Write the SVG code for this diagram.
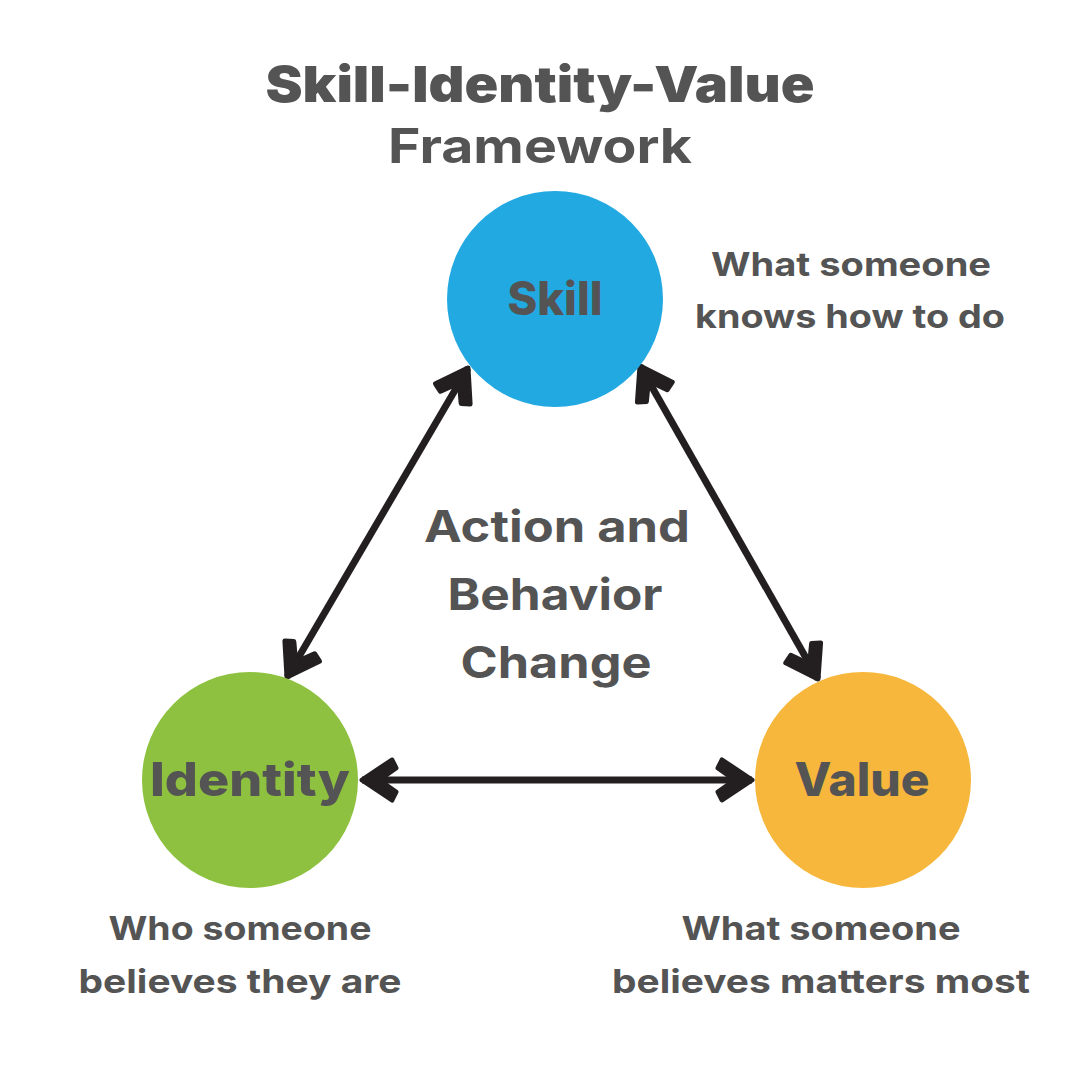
<svg xmlns="http://www.w3.org/2000/svg" width="1080" height="1080" viewBox="0 0 1080 1080">
<style>
  .t { font-family: "Inter", "Liberation Sans", sans-serif; fill: #545454; text-anchor: middle; }
  .title { font-size: 50px; font-weight: 900; }
  .sub { font-size: 48px; font-weight: 700; }
  .node { font-size: 46px; font-weight: 800; }
  .mid { font-size: 44px; font-weight: 700; }
  .desc { font-size: 33px; font-weight: 700; }
  .conn { stroke: #231F20; stroke-width: 7; fill: none; }
</style>
<defs>
  <marker id="ah" markerUnits="userSpaceOnUse" markerWidth="60" markerHeight="60" viewBox="-40 -30 50 60" refX="0" refY="0" orient="auto-start-reverse">
    <path d="M0,0 L-30,-20 L-34,-12 L-17,0 L-34,12 L-30,20 Z" fill="#231F20" stroke="#231F20" stroke-width="5" stroke-linejoin="round"/>
  </marker>
</defs>
<rect width="1080" height="1080" fill="#ffffff"/>
<text class="t title" x="540" y="102" textLength="549" lengthAdjust="spacingAndGlyphs">Skill-Identity-Value</text>
<text class="t sub" x="540" y="163" textLength="304" lengthAdjust="spacingAndGlyphs">Framework</text>
<g id="connectors">
  <line class="conn" x1="468" y1="368" x2="287" y2="677" marker-start="url(#ah)" marker-end="url(#ah)"/>
  <line class="conn" x1="640" y1="366" x2="818" y2="679" marker-start="url(#ah)" marker-end="url(#ah)"/>
  <line class="conn" x1="362" y1="780" x2="752" y2="780" marker-start="url(#ah)" marker-end="url(#ah)"/>
</g>
<g id="skill">
  <circle cx="555" cy="299" r="108" fill="#23A9E1"/>
  <text class="t node" x="555" y="315" textLength="95" lengthAdjust="spacingAndGlyphs">Skill</text>
</g>
<g id="identity">
  <circle cx="250" cy="780" r="108" fill="#8DC13F"/>
  <text class="t node" x="250" y="796" textLength="200" lengthAdjust="spacingAndGlyphs">Identity</text>
</g>
<g id="value">
  <circle cx="863" cy="780" r="108" fill="#F6B73C"/>
  <text class="t node" x="862" y="796" textLength="135" lengthAdjust="spacingAndGlyphs">Value</text>
</g>
<g id="center">
  <text class="t mid" x="557" y="542" textLength="266" lengthAdjust="spacingAndGlyphs">Action and</text>
  <text class="t mid" x="555" y="610" textLength="215" lengthAdjust="spacingAndGlyphs">Behavior</text>
  <text class="t mid" x="556" y="678" textLength="191" lengthAdjust="spacingAndGlyphs">Change</text>
</g>
<g id="desc-skill">
  <text class="t desc" x="851" y="276" textLength="280" lengthAdjust="spacingAndGlyphs">What someone</text>
  <text class="t desc" x="850" y="328" textLength="310" lengthAdjust="spacingAndGlyphs">knows how to do</text>
</g>
<g id="desc-identity">
  <text class="t desc" x="240" y="940" textLength="263" lengthAdjust="spacingAndGlyphs">Who someone</text>
  <text class="t desc" x="240" y="993" textLength="323" lengthAdjust="spacingAndGlyphs">believes they are</text>
</g>
<g id="desc-value">
  <text class="t desc" x="821" y="940" textLength="279" lengthAdjust="spacingAndGlyphs">What someone</text>
  <text class="t desc" x="821" y="993" textLength="418" lengthAdjust="spacingAndGlyphs">believes matters most</text>
</g>
</svg>
